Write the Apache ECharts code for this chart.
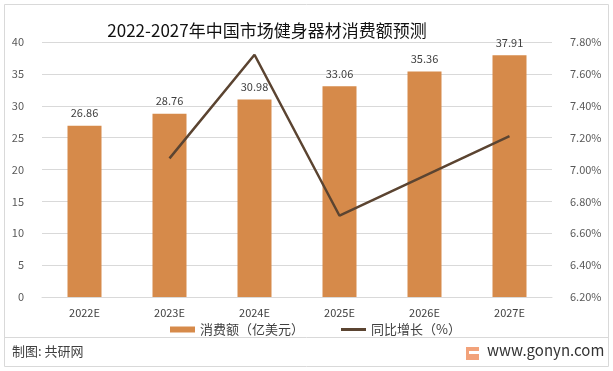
<!DOCTYPE html>
<html><head><meta charset="utf-8">
<script src="https://cdn.jsdelivr.net/npm/echarts@6/dist/echarts.min.js"></script>
<style>html,body{margin:0;padding:0;background:#fff}#c{width:613px;height:371px}</style>
</head><body><div id="c"></div>
<script>
const categories = ['2022E','2023E','2024E','2025E','2026E','2027E'];
const consumption = [26.86, 28.76, 30.98, 33.06, 35.36, 37.91];
const growth = [null, 7.07, 7.72, 6.71, 6.96, 7.21];
const leftTicks = {min: 0, max: 40, interval: 5};
const rightTicks = {min: 6.2, max: 7.8, interval: 0.2};
const font = '"Noto Sans CJK SC", "Noto Sans", sans-serif';
const chart = echarts.init(document.getElementById('c'));
chart.setOption({
  animation: false,
  title: {text: '2022-2027年中国市场健身器材消费额预测', left: 262, top: 17, textAlign: 'center',
    textStyle: {fontFamily: font, fontSize: 17, fontWeight: 'normal', color: '#111'}},
  grid: {left: 42, right: 61, top: 42, bottom: 74},
  legend: {top: 318, left: 165, itemGap: 37, itemWidth: 25,
    textStyle: {fontFamily: font, fontSize: 13, color: '#404040'},
    data: [{name: '消费额（亿美元）', icon: 'rect'},
           {name: '同比增长（%）', icon: 'path://M0,0 L25,0 L25,3 L0,3 Z'}],
    itemHeight: 6},
  xAxis: {type: 'category', data: categories,
    axisLine: {lineStyle: {color: '#d9d9d9'}}, axisTick: {show: false},
    axisLabel: {fontFamily: font, fontSize: 11, color: '#404040', margin: 10}},
  yAxis: [
    {type: 'value', min: leftTicks.min, max: leftTicks.max, interval: leftTicks.interval,
      axisLine: {show: false}, axisTick: {show: false},
      splitLine: {lineStyle: {color: '#d9d9d9'}},
      axisLabel: {fontFamily: font, fontSize: 11, color: '#595959', margin: 18}},
    {type: 'value', min: rightTicks.min, max: rightTicks.max, interval: rightTicks.interval,
      axisLine: {show: false}, axisTick: {show: false}, splitLine: {show: false},
      axisLabel: {fontFamily: font, fontSize: 11, color: '#595959', margin: 18,
        formatter: v => v.toFixed(2) + '%'}}
  ],
  series: [
    {name: '消费额（亿美元）', type: 'bar', data: consumption, barWidth: 34,
      itemStyle: {color: '#d68a4a'},
      label: {show: true, position: 'top', distance: 7, fontFamily: font, fontSize: 11, color: '#404040',
        formatter: p => p.value.toFixed(2)}},
    {name: '同比增长（%）', type: 'line', yAxisIndex: 1, data: growth, showSymbol: false,
      symbol: 'none', connectNulls: false,
      lineStyle: {color: '#5b4431', width: 2.5}, itemStyle: {color: '#5b4431'}}
  ],
  graphic: [
    {type: 'rect', shape: {x: 4.5, y: 4.5, width: 604, height: 362}, style: {fill: 'none', stroke: '#d9d9d9', lineWidth: 1}, silent: true},
    {type: 'line', shape: {x1: 5, y1: 337.5, x2: 608, y2: 337.5}, style: {stroke: '#d9d9d9', lineWidth: 1}},
    {type: 'text', left: 12, top: 345, style: {text: '制图: 共研网', font: '13px ' + font, fill: '#404040'}},
    {type: 'rect', shape: {x: 466, y: 347, width: 13, height: 13}, style: {fill: '#f2a27a'}},
    {type: 'rect', shape: {x: 469, y: 351, width: 10, height: 3}, style: {fill: '#fff'}},
    {type: 'text', left: 487, top: 343, style: {text: 'www.gonyn.com', font: '15px ' + font, fill: '#333'}}
  ]
});
</script></body></html>
